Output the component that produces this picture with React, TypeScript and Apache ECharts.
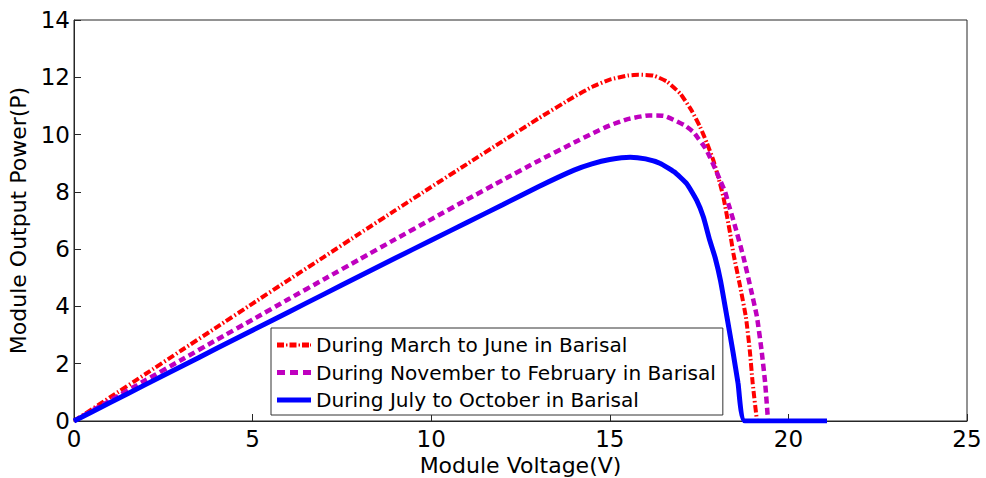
import React, { useEffect, useRef } from "react";
import * as echarts from "echarts";

const seriesNames = [
  "During March to June in Barisal",
  "During November to February in Barisal",
  "During July to October in Barisal",
];

// [voltage (V), power (P)]
const marchJune: number[][] = [
  [0, 0], [1, 0.82], [2, 1.64], [3, 2.46], [4, 3.28], [5, 4.1], [6, 4.92], [7, 5.73],
  [8, 6.55], [9, 7.36], [10, 8.17], [11, 8.97], [12, 9.77], [13, 10.56], [14, 11.32],
  [14.5, 11.66], [15, 11.92], [15.5, 12.06], [15.8, 12.09], [16.22, 12.06], [16.6, 11.85],
  [16.98, 11.42], [17.29, 10.84], [17.53, 10.26], [17.72, 9.7], [17.9, 9.1], [18.05, 8.45],
  [18.18, 7.82], [18.37, 6.54], [18.46, 5.85], [18.64, 4.75], [18.81, 3.63], [18.92, 2.45],
  [19.0, 1.32], [19.12, 0],
];

const novFeb: number[][] = [
  [0, 0], [1, 0.71], [2, 1.42], [3, 2.13], [4, 2.84], [5, 3.54], [6, 4.25], [7, 4.95],
  [8, 5.65], [9, 6.35], [10, 7.04], [11, 7.73], [12, 8.41], [13, 9.08], [14, 9.72],
  [14.5, 10.03], [15, 10.32], [15.5, 10.54], [16.1, 10.67], [16.5, 10.66], [16.78, 10.52],
  [17.1, 10.32], [17.34, 10.09], [17.48, 9.86], [17.67, 9.54], [17.8, 9.22], [17.95, 8.81],
  [18.09, 8.4], [18.23, 8.0], [18.32, 7.59], [18.5, 6.83], [18.74, 5.73], [18.95, 4.6],
  [19.12, 3.63], [19.25, 2.45], [19.35, 1.32], [19.43, 0],
];

const julyOct: number[][] = [
  [0, 0], [1, 0.635], [2, 1.27], [3, 1.9], [4, 2.54], [5, 3.17], [6, 3.8], [7, 4.43],
  [8, 5.06], [9, 5.69], [10, 6.31], [11, 6.93], [12, 7.55], [13, 8.18], [14, 8.76],
  [14.5, 8.98], [15, 9.13], [15.57, 9.21], [16.0, 9.15], [16.4, 9.0], [16.8, 8.7],
  [17.15, 8.29], [17.43, 7.71], [17.62, 7.12], [17.8, 6.3], [17.95, 5.7], [18.1, 4.9],
  [18.28, 3.63], [18.45, 2.4], [18.59, 1.32], [18.78, 0], [21.08, 0],
];

const xTicks = { min: 0, max: 25, interval: 5 };
const yTicks = { min: 0, max: 14, interval: 2 };

const FONT = "DejaVu Sans";
const colors = ["#ff0000", "#bf00bf", "#0000ff"];

// legend icons (drawn as filled shapes, 34 x 5)
const legendIcons = [
  "path://M0,0h7v5h-7z M9,1h1.5v3h-1.5z M12.5,0h7v5h-7z M21.5,1h1.5v3h-1.5z M25,0h7v5h-7z M33,1h1v3h-1z",
  "path://M0,0h8v5h-8z M13,0h8v5h-8z M26,0h8v5h-8z",
  "path://M0,0h34v5h-34z",
];

export default function App() {
  const ref = useRef<HTMLDivElement>(null);
  useEffect(() => {
    if (!ref.current) return;
    const chart = echarts.init(ref.current, null, { renderer: "svg" });
    const axisCommon = {
      axisLine: { show: true, lineStyle: { color: "#262626", width: 1 } },
      axisTick: { show: true, inside: true, length: 7, lineStyle: { color: "#262626" } },
      splitLine: { show: false },
      nameTextStyle: { fontFamily: FONT, fontSize: 22, color: "#000" },
    };
    const lineCommon = {
      type: "line",
      showSymbol: false,
      symbol: "none",
      smooth: 0.15,
    };
    chart.setOption({
      animation: false,
      backgroundColor: "#fff",
      grid: {
        left: 74,
        right: 19,
        top: 20,
        bottom: 57,
        outerBoundsMode: "none",
        containLabel: false,
        show: true,
        borderColor: "#262626",
        borderWidth: 1,
        backgroundColor: "transparent",
      },
      xAxis: {
        type: "value",
        ...xTicks,
        ...axisCommon,
        name: "Module Voltage(V)",
        nameLocation: "middle",
        nameGap: 29,
        axisLabel: { fontFamily: FONT, fontSize: 23, color: "#000", margin: 6 },
      },
      yAxis: {
        type: "value",
        ...yTicks,
        ...axisCommon,
        name: "Module Output Power(P)",
        nameLocation: "middle",
        nameGap: 38,
        axisLabel: { fontFamily: FONT, fontSize: 23, color: "#000", margin: 4 },
      },
      legend: {
        orient: "vertical",
        left: 271,
        top: 328,
        data: seriesNames.map((name, i) => ({
          name,
          icon: legendIcons[i],
          itemStyle: { color: colors[i], borderWidth: 0 },
        })),
        backgroundColor: "#fff",
        borderColor: "#333",
        borderWidth: 1,
        borderRadius: 0,
        padding: [6, 7, 4, 6],
        itemGap: 5.5,
        itemWidth: 34,
        itemHeight: 5,
        textStyle: { fontFamily: FONT, fontSize: 20.1, color: "#000", lineHeight: 22 },
      },
      series: [
        {
          ...lineCommon,
          name: seriesNames[0],
          data: marchJune,
          lineStyle: { color: colors[0], width: 4, type: [7.5, 2.5, 1.5, 2.5] },
          itemStyle: { color: colors[0] },
        },
        {
          ...lineCommon,
          name: seriesNames[1],
          data: novFeb,
          lineStyle: { color: colors[1], width: 4.5, type: [7, 4] },
          itemStyle: { color: colors[1] },
        },
        {
          ...lineCommon,
          name: seriesNames[2],
          data: julyOct,
          lineStyle: { color: colors[2], width: 5 },
          itemStyle: { color: colors[2] },
        },
      ],
    });
    return () => chart.dispose();
  }, []);
  return (
    <div
      ref={ref}
      style={{ position: "fixed", left: 0, top: 0, width: 986, height: 478, background: "#fff" }}
    />
  );
}
